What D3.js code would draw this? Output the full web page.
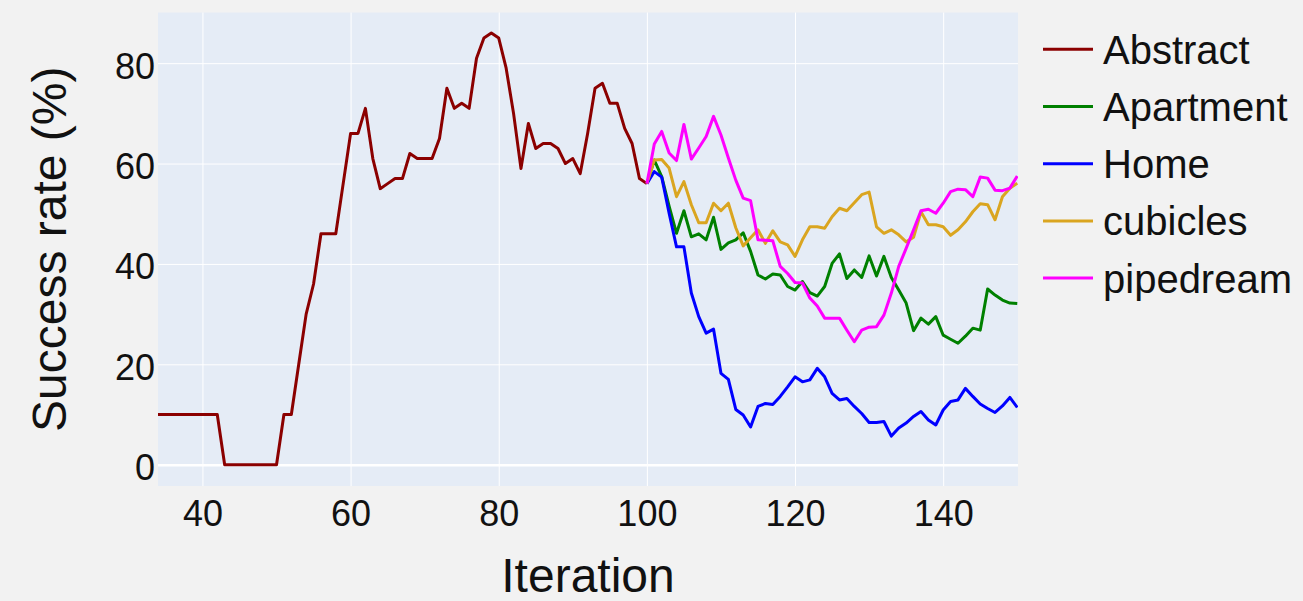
<!DOCTYPE html>
<html>
<head>
<meta charset="utf-8">
<script src="https://cdn.jsdelivr.net/npm/d3@7"></script>
<style>
  html, body { margin: 0; padding: 0; background: #f2f2f2; }
  svg { display: block; font-family: "Liberation Sans", Arial, sans-serif; }
</style>
</head>
<body>
<svg id="chart" width="1303" height="601"></svg>
<script>
// ---------------- Data ----------------
const abstractX = d3.range(34, 101);
const abstractY = [
  10, 10, 10, 10, 10, 10, 10, 10, 10,          // 34-42
  0, 0, 0, 0, 0, 0, 0, 0,                      // 43-50
  10, 10, 20, 30, 36, 46, 46, 46, 56,          // 51-59
  66, 66, 71, 61, 55, 56, 57, 57, 62, 61,      // 60-69
  61, 61, 65, 75, 71, 72, 71, 81, 85, 86,      // 70-79
  85, 79, 70, 59, 68, 63, 64, 64, 63, 60,      // 80-89
  61, 58, 66, 75, 76, 72, 72, 67, 64, 57,      // 90-99
  56                                           // 100
];
const laterX = d3.range(100, 151);
const apartmentY = [
  56, 60.7, 57.4, 51.5, 46.1, 50.6, 45.4, 46, 44.8, 49.3,
  42.9, 44.2, 44.8, 46.2, 42.5, 37.8, 37, 38, 37.8, 35.5,
  34.8, 36.5, 34.3, 33.6, 35.5, 40.1, 42, 37.1, 38.8, 37.3,
  41.6, 37.6, 41.5, 37.3, 34.8, 32.2, 26.7, 29.2, 28, 29.5,
  25.8, 25, 24.2, 25.6, 27.2, 26.8, 35, 33.8, 32.8, 32.2, 32.1
];
const homeY = [
  56, 58.4, 57.3, 50.1, 43.4, 43.4, 34.2, 29.5, 26.2, 27,
  18.2, 17, 11, 9.9, 7.5, 11.6, 12.2, 12, 13.6, 15.5,
  17.5, 16.5, 16.9, 19.2, 17.5, 14.2, 12.9, 13.2, 11.6, 10.2,
  8.4, 8.4, 8.6, 5.7, 7.3, 8.3, 9.6, 10.6, 8.9, 7.9,
  10.9, 12.6, 12.9, 15.2, 13.6, 12.1, 11.2, 10.4, 11.7, 13.4, 11.4
];
const cubiclesY = [
  56, 60.7, 60.8, 59.1, 53.4, 56.4, 51.8, 48.2, 48.2, 52.1,
  50.6, 52.1, 47.2, 43.6, 45.2, 46.8, 44.1, 46.6, 44.4, 43.8,
  41.5, 44.8, 47.4, 47.4, 47.1, 49.4, 51.1, 50.6, 52.2, 53.8,
  54.3, 47.4, 46.1, 46.8, 45.8, 44.4, 45.3, 50.4, 47.8, 47.8,
  47.4, 45.7, 46.8, 48.4, 50.4, 52, 51.8, 48.8, 53.4, 55.1, 56.1
];
const pipedreamY = [
  56, 63.9, 66.4, 62.1, 60.6, 67.8, 60.9, 63.1, 65.4, 69.4,
  65.7, 61.1, 56.7, 53.1, 52.6, 44.8, 44.7, 44.6, 39.5, 38.1,
  36.3, 36.2, 33.2, 31.6, 29.2, 29.2, 29.2, 26.8, 24.5, 26.8,
  27.4, 27.5, 29.8, 34.2, 39.5, 43.1, 46.8, 50.6, 50.9, 50.1,
  52.1, 54.4, 54.9, 54.8, 53.4, 57.3, 57.1, 54.7, 54.6, 55.1, 57.5
];
const seriesNames = ["Abstract", "Apartment", "Home", "cubicles", "pipedream"];
const seriesColors = ["#8b0000", "#008000", "#0000ff", "#daa520", "#ff00ff"];
const xTicks = [40, 60, 80, 100, 120, 140];
const yTicks = [0, 20, 40, 60, 80];

const series = [
  { name: seriesNames[0], color: seriesColors[0], xs: abstractX, ys: abstractY },
  { name: seriesNames[1], color: seriesColors[1], xs: laterX, ys: apartmentY },
  { name: seriesNames[2], color: seriesColors[2], xs: laterX, ys: homeY },
  { name: seriesNames[3], color: seriesColors[3], xs: laterX, ys: cubiclesY },
  { name: seriesNames[4], color: seriesColors[4], xs: laterX, ys: pipedreamY }
];

// ---------------- Layout ----------------
const svg = d3.select("#chart");
const plot = { left: 158, right: 1018, top: 12.5, bottom: 486 };

const x = d3.scaleLinear().domain([34, 150.1]).range([plot.left, plot.right]);
const y = d3.scaleLinear().domain([-4.25, 90.1]).range([plot.bottom, plot.top]);

svg.append("rect").attr("width", 1303).attr("height", 601).attr("fill", "#f2f2f2");
svg.append("rect")
  .attr("x", plot.left).attr("y", plot.top)
  .attr("width", plot.right - plot.left).attr("height", plot.bottom - plot.top)
  .attr("fill", "#e5ecf6");

svg.append("defs").append("clipPath").attr("id", "clip")
  .append("rect")
  .attr("x", plot.left).attr("y", plot.top)
  .attr("width", plot.right - plot.left).attr("height", plot.bottom - plot.top);

// Grid via axes
const xGrid = svg.append("g")
  .attr("transform", `translate(0,${plot.bottom})`)
  .call(d3.axisBottom(x).tickValues(xTicks).tickSize(-(plot.bottom - plot.top)).tickFormat(""));
xGrid.select(".domain").remove();
xGrid.selectAll("line").attr("stroke", "#ffffff").attr("stroke-width", 1);

const yGrid = svg.append("g")
  .attr("transform", `translate(${plot.left},0)`)
  .call(d3.axisLeft(y).tickValues(yTicks).tickSize(-(plot.right - plot.left)).tickFormat(""));
yGrid.select(".domain").remove();
yGrid.selectAll("line").attr("stroke", "#ffffff")
  .attr("stroke-width", d => d === 0 ? 2.5 : 1);

// Tick labels via axes
const xAxis = svg.append("g")
  .attr("transform", `translate(0,${plot.bottom})`)
  .call(d3.axisBottom(x).tickValues(xTicks).tickSize(0).tickPadding(0));
xAxis.select(".domain").remove();
xAxis.selectAll("text")
  .attr("y", 40).attr("dy", null)
  .attr("font-size", 36).attr("fill", "#111")
  .attr("font-family", "Liberation Sans, Arial, sans-serif");

const yAxis = svg.append("g")
  .attr("transform", `translate(${plot.left},0)`)
  .call(d3.axisLeft(y).tickValues(yTicks).tickSize(0).tickPadding(0));
yAxis.select(".domain").remove();
yAxis.selectAll("text")
  .attr("x", -3).attr("dy", "15px")
  .attr("font-size", 36).attr("fill", "#111")
  .attr("font-family", "Liberation Sans, Arial, sans-serif");

// Lines
const line = d3.line().x(d => x(d[0])).y(d => y(d[1]));
const lines = svg.append("g").attr("clip-path", "url(#clip)");
series.forEach(s => {
  const pts = s.xs.map((v, i) => [v, s.ys[i]]);
  lines.append("path")
    .datum(pts)
    .attr("d", line)
    .attr("fill", "none")
    .attr("stroke", s.color)
    .attr("stroke-width", 3)
    .attr("stroke-linejoin", "round");
});

// Axis titles
svg.append("text")
  .attr("x", (plot.left + plot.right) / 2).attr("y", 592)
  .attr("text-anchor", "middle")
  .attr("font-size", 48).attr("fill", "#111")
  .text("Iteration");

svg.append("text")
  .attr("transform", `translate(66,${(plot.top + plot.bottom) / 2}) rotate(-90)`)
  .attr("text-anchor", "middle")
  .attr("font-size", 48).attr("fill", "#111")
  .text("Success rate (%)");

// Legend
const legend = svg.append("g");
series.forEach((s, i) => {
  const yy = 49.3 + i * 57.2;
  legend.append("line")
    .attr("x1", 1043).attr("x2", 1093).attr("y1", yy).attr("y2", yy)
    .attr("stroke", s.color).attr("stroke-width", 3);
  legend.append("text")
    .attr("x", 1103).attr("y", yy + 14.5)
    .attr("font-size", 40).attr("fill", "#111")
    .text(s.name);
});
</script>
</body>
</html>
